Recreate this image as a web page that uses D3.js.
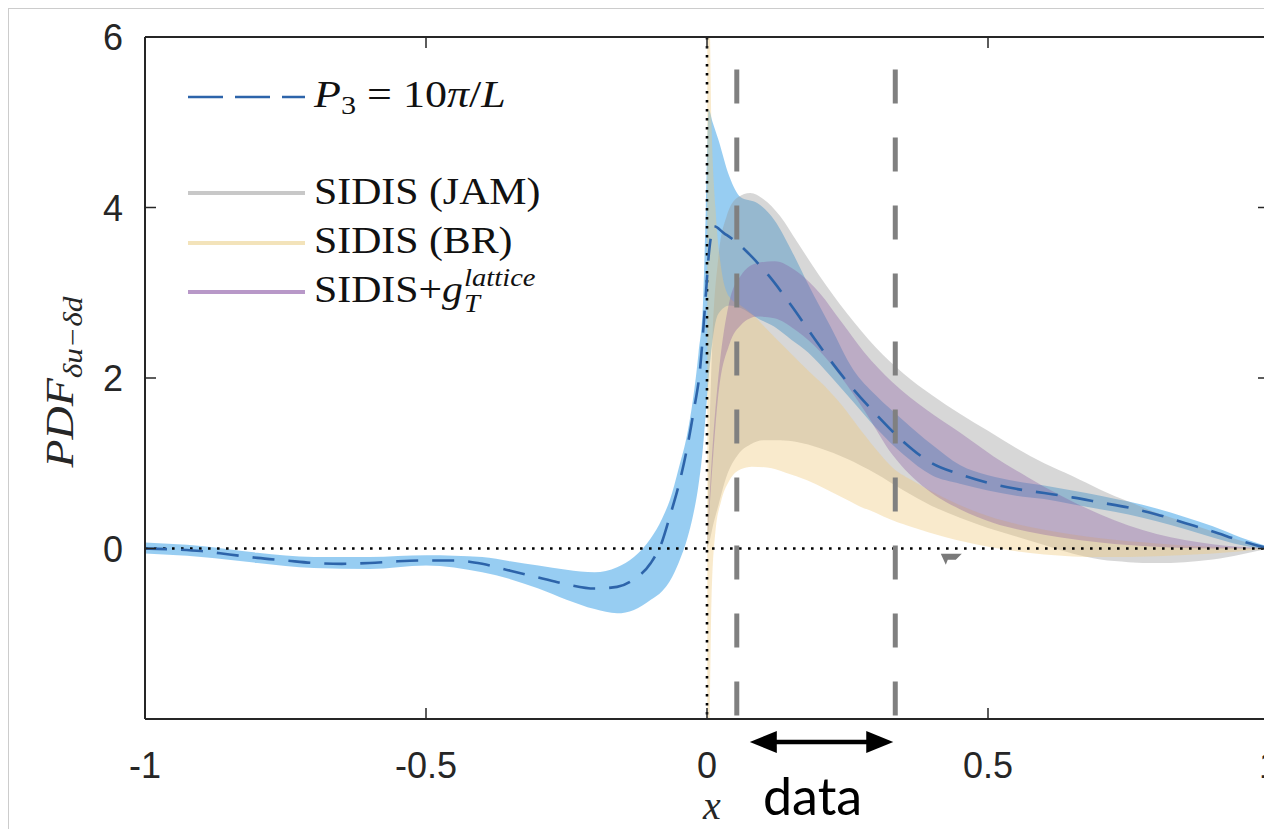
<!DOCTYPE html>
<html><head><meta charset="utf-8">
<script src="https://cdn.jsdelivr.net/npm/d3@7"></script>
<style>body{margin:0;background:#fff;overflow:hidden}svg{display:block}</style>
</head><body><svg id="c" width="1264" height="829"></svg>
<script>
// ---------- data ----------
const xTicks = [-1, -0.5, 0, 0.5, 1];
const xTickLabels = ["-1", "-0.5", "0", "0.5", "1"];
const yTicks = [0, 2, 4, 6];
const yTickLabels = ["0", "2", "4", "6"];

// lattice band P3 = 10pi/L
const blueBandX = [-1,-0.9,-0.8,-0.7,-0.6,-0.5,-0.4,-0.35,-0.3,-0.25,-0.2,-0.16,-0.13,-0.1,-0.08,-0.066,-0.05,-0.035,-0.025,-0.015,-0.007,-0.002,0.003,0.01,0.02,0.04,0.06,0.09,0.12,0.15,0.18,0.22,0.26,0.3,0.35,0.4,0.45,0.5,0.55,0.6,0.65,0.7,0.75,0.8,0.85,0.9,0.95,1.0];
const blueUpper = [0.07,0.03,-0.05,-0.1,-0.1,-0.08,-0.1,-0.15,-0.2,-0.25,-0.28,-0.22,-0.1,0.12,0.35,0.57,0.95,1.35,1.75,2.3,2.9,4.0,5.15,5.0,4.8,4.36,4.12,4.05,3.85,3.5,3.1,2.6,2.1,1.8,1.5,1.22,0.98,0.86,0.79,0.74,0.68,0.62,0.55,0.47,0.37,0.26,0.13,0.02];
const blueLower = [-0.06,-0.1,-0.17,-0.23,-0.24,-0.2,-0.28,-0.36,-0.47,-0.6,-0.71,-0.76,-0.72,-0.6,-0.5,-0.38,-0.16,0.12,0.38,0.75,1.2,1.6,2.0,2.45,2.75,2.85,2.82,2.7,2.6,2.45,2.3,2.02,1.72,1.42,1.1,0.86,0.76,0.68,0.62,0.58,0.52,0.46,0.4,0.32,0.23,0.13,0.04,-0.02];
const blueLineX = [-1,-0.95,-0.9,-0.85,-0.8,-0.75,-0.7,-0.65,-0.6,-0.55,-0.5,-0.45,-0.4,-0.35,-0.3,-0.25,-0.2,-0.16,-0.13,-0.1,-0.08,-0.066,-0.05,-0.036,-0.024,-0.012,-0.004,0.004,0.012,0.03,0.055,0.08,0.11,0.15,0.2,0.25,0.3,0.35,0.4,0.45,0.5,0.55,0.6,0.65,0.7,0.75,0.8,0.85,0.9,0.95,1.0];
const blueLine = [0.0,-0.01,-0.03,-0.07,-0.11,-0.14,-0.17,-0.18,-0.17,-0.15,-0.14,-0.14,-0.18,-0.26,-0.34,-0.42,-0.47,-0.45,-0.36,-0.17,0.08,0.38,0.75,1.16,1.6,2.13,2.8,3.5,3.78,3.7,3.58,3.42,3.2,2.85,2.38,1.95,1.58,1.25,1.0,0.87,0.77,0.7,0.65,0.6,0.54,0.48,0.4,0.3,0.2,0.09,0.0];

// SIDIS (JAM)
const jamX = [0,0.005,0.01,0.02,0.035,0.055,0.077,0.1,0.13,0.16,0.2,0.25,0.3,0.35,0.4,0.45,0.5,0.55,0.6,0.65,0.7,0.75,0.8,0.85,0.9,0.95,1.0];
const jamUpper = [0,1.5,2.5,3.4,3.9,4.12,4.17,4.1,3.9,3.6,3.2,2.75,2.36,2.05,1.8,1.58,1.38,1.18,1.0,0.85,0.69,0.55,0.42,0.31,0.2,0.09,0.0];
const jamLower = [0,0.1,0.25,0.5,0.85,1.1,1.22,1.27,1.27,1.25,1.18,1.05,0.88,0.68,0.5,0.36,0.24,0.14,0.04,-0.06,-0.13,-0.16,-0.17,-0.16,-0.13,-0.07,0.0];

// SIDIS (BR)
const brX = [0.0005,0.004,0.008,0.015,0.025,0.04,0.06,0.08,0.107,0.14,0.178,0.21,0.24,0.27,0.3,0.33,0.37,0.42,0.5,0.6,0.7,0.8,0.9,1.0];
const brUpper = [6.3,6.3,5.0,4.0,3.3,2.95,2.85,2.75,2.57,2.35,2.1,1.9,1.68,1.42,1.17,0.95,0.78,0.6,0.38,0.22,0.12,0.06,0.02,0.0];
const brLower = [-2.1,-2.1,-0.6,0.2,0.55,0.8,0.93,0.96,0.95,0.89,0.8,0.7,0.6,0.5,0.42,0.33,0.24,0.14,0.02,-0.07,-0.1,-0.09,-0.06,0.0];

// SIDIS + g_T lattice
const gtX = [0,0.01,0.02,0.04,0.06,0.09,0.12,0.16,0.2,0.24,0.28,0.33,0.39,0.45,0.51,0.57,0.63,0.7,0.8,0.9,1.0];
const gtUpper = [0,1.2,2.0,2.9,3.2,3.35,3.37,3.25,3.0,2.65,2.3,1.95,1.63,1.36,1.08,0.84,0.62,0.4,0.17,0.05,0.0];
const gtLower = [0,1.0,1.8,2.4,2.62,2.72,2.7,2.55,2.32,2.0,1.62,1.1,0.7,0.46,0.3,0.2,0.13,0.07,0.02,0.0,0.0];

const dataRange = [0.053, 0.335];   // grey dashed lines
const markerPos = [0.432, -0.12];   // small grey wedge

// ---------- drawing ----------
const svg = d3.select('#c');
const x = d3.scaleLinear().domain([-1, 1]).range([145, 1269]);
const y = d3.scaleLinear().domain([-2, 6]).range([719, 37]);
const axisColor = '#262626';

svg.append('rect').attr('x', 8.5).attr('y', 8.5).attr('width', 1300).attr('height', 900)
  .attr('fill', 'none').attr('stroke', '#cccccc').attr('stroke-width', 1);

svg.append('defs').append('clipPath').attr('id', 'clip')
  .append('rect').attr('x', x(-1)).attr('y', y(6)).attr('width', x(1) - x(-1)).attr('height', y(-2) - y(6));

const plot = svg.append('g').attr('clip-path', 'url(#clip)');

function band(xs, lo, hi) { return xs.map((v, i) => ({x: v, lo: lo[i], hi: hi[i]})); }
const area = d3.area().x(d => x(d.x)).y0(d => y(d.lo)).y1(d => y(d.hi)).curve(d3.curveMonotoneX);

plot.append('path').datum(band(blueBandX, blueLower, blueUpper)).attr('d', area)
  .attr('fill', 'rgb(95,178,235)').attr('fill-opacity', 0.65);
plot.append('path').datum(band(jamX, jamLower, jamUpper)).attr('d', area)
  .attr('fill', 'rgb(150,150,150)').attr('fill-opacity', 0.38);
plot.append('path').datum(band(brX, brLower, brUpper)).attr('d', area)
  .attr('fill', 'rgb(240,200,120)').attr('fill-opacity', 0.38);
plot.append('path').datum(band(gtX, gtLower, gtUpper)).attr('d', area)
  .attr('fill', 'rgb(130,80,160)').attr('fill-opacity', 0.32);

// dotted reference lines
plot.append('line').attr('x1', x(-1)).attr('x2', x(1)).attr('y1', y(0)).attr('y2', y(0))
  .attr('stroke', '#000').attr('stroke-width', 2.6).attr('stroke-dasharray', '2.6,6.4');
plot.append('line').attr('x1', x(0)).attr('x2', x(0)).attr('y1', y(6)).attr('y2', y(-2))
  .attr('stroke', '#000').attr('stroke-width', 2.6).attr('stroke-dasharray', '2.6,6.4');

// grey dashed data-range lines
dataRange.forEach(v => {
  plot.append('line').attr('x1', x(v)).attr('x2', x(v)).attr('y1', y(5.62)).attr('y2', y(-2))
    .attr('stroke', '#808080').attr('stroke-width', 5).attr('stroke-dasharray', '34,34');
});

// dashed central lattice curve
const line = d3.line().x(d => x(d[0])).y(d => y(d[1])).curve(d3.curveMonotoneX);
plot.append('path').datum(blueLineX.map((v, i) => [v, blueLine[i]])).attr('d', line)
  .attr('fill', 'none').attr('stroke', 'rgb(45,100,170)').attr('stroke-width', 2.6)
  .attr('stroke-dasharray', '22,14');

// small grey wedge
const mx = x(markerPos[0]), my = y(markerPos[1]);
svg.append('path').attr('d', `M${mx-9},${my-5} L${mx+12},${my-5} L${mx+6},${my+1} L${mx-2},${my+1} L${mx-4},${my+6} Z`)
  .attr('fill', '#7a7a7a');

// axes box
const ax = svg.append('g').attr('stroke', axisColor).attr('stroke-width', 2).attr('fill', 'none');
ax.append('line').attr('x1', x(-1)).attr('x2', x(-1)).attr('y1', y(6)).attr('y2', y(-2));
ax.append('line').attr('x1', x(1)).attr('x2', x(1)).attr('y1', y(6)).attr('y2', y(-2));
ax.append('line').attr('x1', x(-1)).attr('x2', x(1)).attr('y1', y(6)).attr('y2', y(6));
ax.append('line').attr('x1', x(-1)).attr('x2', x(1)).attr('y1', y(-2)).attr('y2', y(-2));
xTicks.forEach(t => {
  ax.append('line').attr('x1', x(t)).attr('x2', x(t)).attr('y1', y(-2)).attr('y2', y(-2) - 11).attr('stroke-width', 1.5);
  ax.append('line').attr('x1', x(t)).attr('x2', x(t)).attr('y1', y(6)).attr('y2', y(6) + 11).attr('stroke-width', 1.5);
});
yTicks.forEach(t => {
  ax.append('line').attr('x1', x(-1)).attr('x2', x(-1) + 11).attr('y1', y(t)).attr('y2', y(t)).attr('stroke-width', 1.5);
  ax.append('line').attr('x1', x(1)).attr('x2', x(1) - 11).attr('y1', y(t)).attr('y2', y(t)).attr('stroke-width', 1.5);
});

const sans = 'Liberation Sans, Arial, Helvetica, sans-serif';
const serif = 'Liberation Serif, Times New Roman, serif';
xTicks.forEach((t, i) => {
  svg.append('text').attr('x', x(t)).attr('y', 778).attr('text-anchor', 'middle')
    .attr('font-family', sans).attr('font-size', 36).attr('fill', axisColor).text(xTickLabels[i]);
});
yTicks.forEach((t, i) => {
  svg.append('text').attr('x', 123).attr('y', y(t) + 13).attr('text-anchor', 'end')
    .attr('font-family', sans).attr('font-size', 36).attr('fill', axisColor).text(yTickLabels[i]);
});

// axis labels
svg.append('text').attr('x', 712).attr('y', 819).attr('text-anchor', 'middle')
  .attr('font-family', serif).attr('font-size', 40).attr('font-style', 'italic').attr('fill', axisColor).text('x');

const yl = svg.append('text').attr('transform', 'translate(73,382) rotate(-90) scale(1.12,1)')
  .attr('text-anchor', 'middle').attr('font-family', serif).attr('font-size', 41).attr('fill', axisColor);
yl.append('tspan').attr('font-style', 'italic').text('PDF');
yl.append('tspan').attr('font-size', 28).attr('dy', 9).attr('font-style', 'italic').text('δu−δd');

// data arrow
const ay = 742, ax1 = x(dataRange[0]) + 13, ax2 = x(dataRange[1]) - 2;
svg.append('line').attr('x1', ax1 + 20).attr('x2', ax2 - 20).attr('y1', ay).attr('y2', ay)
  .attr('stroke', '#000').attr('stroke-width', 4.5);
svg.append('path').attr('d', `M${ax1},${ay} L${ax1+27},${ay-11} L${ax1+27},${ay+11} Z`).attr('fill', '#000');
svg.append('path').attr('d', `M${ax2},${ay} L${ax2-27},${ay-11} L${ax2-27},${ay+11} Z`).attr('fill', '#000');
svg.append('text').attr('x', 763).attr('y', 815).attr('font-family', 'Lato, Open Sans, sans-serif')
  .attr('font-size', 52).attr('fill', '#000').text('data');

// legend
const legX1 = 188, legX2 = 305, textX = 314;
const legRows = [
  {key: 'P3', y: 97, base: 107, sx: 1.16},
  {key: 'JAM', y: 193, base: 204, sx: 1.1},
  {key: 'BR', y: 243, base: 253, sx: 1.1},
  {key: 'GT', y: 292, base: 302, sx: 1.1}
];
const legColors = {JAM: 'rgb(200,200,200)', BR: 'rgb(243,227,186)', GT: 'rgb(184,152,200)'};
legRows.forEach(r => {
  const l = svg.append('line').attr('x1', legX1).attr('x2', legX2).attr('y1', r.y).attr('y2', r.y);
  if (r.key === 'P3') l.attr('stroke', 'rgb(45,100,170)').attr('stroke-width', 2.6).attr('stroke-dasharray', '35,12');
  else l.attr('stroke', legColors[r.key]).attr('stroke-width', 4);
});
function legText(row) {
  return svg.append('g').attr('transform', `translate(${textX},${row.base}) scale(${row.sx},1)`)
    .append('text').attr('font-family', serif).attr('font-size', 38).attr('fill', '#111');
}
const t1 = legText(legRows[0]);
t1.append('tspan').attr('font-style', 'italic').text('P');
t1.append('tspan').attr('font-size', 26).attr('dy', 7).text('3');
t1.append('tspan').attr('dy', -7).text(' = 10');
t1.append('tspan').attr('font-style', 'italic').text('π');
t1.append('tspan').text('/');
t1.append('tspan').attr('font-style', 'italic').text('L');
legText(legRows[1]).text('SIDIS (JAM)');
legText(legRows[2]).text('SIDIS (BR)');
const t4 = legText(legRows[3]);
t4.append('tspan').text('SIDIS+');
t4.append('tspan').attr('font-style', 'italic').text('g');
const gEnd = t4.node().getComputedTextLength();
const t4p = d3.select(t4.node().parentNode);
t4p.append('text').attr('x', gEnd + 1).attr('y', 10).attr('font-family', serif).attr('font-size', 26)
  .attr('font-style', 'italic').attr('fill', '#111').text('T');
t4p.append('text').attr('x', gEnd + 1).attr('y', -16).attr('font-family', serif).attr('font-size', 26)
  .attr('font-style', 'italic').attr('fill', '#111').text('lattice');
</script></body></html>
